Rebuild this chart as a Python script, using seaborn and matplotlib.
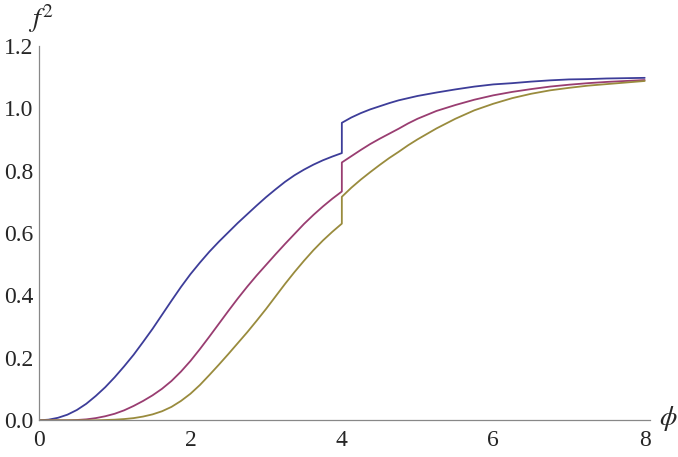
import numpy as np
import pandas as pd
import matplotlib
matplotlib.use("Agg")
import matplotlib.pyplot as plt
import seaborn as sns

# phi grid, curves (jump at phi = 4)
phi_left = [0.0, 0.125, 0.25, 0.375, 0.5, 0.625, 0.75, 0.875, 1.0, 1.125,
            1.25, 1.375, 1.5, 1.625, 1.75, 1.875, 2.0, 2.125, 2.25, 2.375,
            2.5, 2.625, 2.75, 2.875, 3.0, 3.125, 3.25, 3.375, 3.5, 3.625,
            3.75, 3.875, 4.0]
phi_right = [4.0, 4.125, 4.25, 4.375, 4.5, 4.625, 4.75, 4.875, 5.0, 5.25,
             5.5, 5.75, 6.0, 6.25, 6.5, 6.75, 7.0, 7.25, 7.5, 7.75, 8.0]

blue_left = [0.000, 0.002, 0.008, 0.018, 0.033, 0.053, 0.078, 0.106, 0.138,
             0.173, 0.210, 0.251, 0.293, 0.338, 0.383, 0.427, 0.468, 0.505,
             0.540, 0.572, 0.602, 0.632, 0.660, 0.688, 0.715, 0.740, 0.764,
             0.785, 0.803, 0.819, 0.833, 0.845, 0.856]
blue_right = [0.953, 0.970, 0.984, 0.996, 1.006, 1.016, 1.025, 1.032, 1.039,
              1.050, 1.060, 1.069, 1.076, 1.080, 1.085, 1.089, 1.092, 1.093,
              1.095, 1.096, 1.097]

magenta_left = [0.000, 0.000, 0.000, 0.000, 0.001, 0.003, 0.007, 0.013, 0.021,
                0.032, 0.046, 0.062, 0.080, 0.101, 0.126, 0.156, 0.190, 0.228,
                0.268, 0.309, 0.350, 0.390, 0.428, 0.464, 0.498, 0.532, 0.565,
                0.597, 0.629, 0.658, 0.685, 0.710, 0.733]
magenta_right = [0.826, 0.846, 0.866, 0.885, 0.902, 0.918, 0.934, 0.951, 0.966,
                 0.991, 1.010, 1.027, 1.041, 1.052, 1.061, 1.069, 1.075, 1.080,
                 1.084, 1.087, 1.090]

yellow_left = [0.000, 0.000, 0.000, 0.000, 0.000, 0.000, 0.000, 0.001, 0.002,
               0.004, 0.007, 0.012, 0.019, 0.029, 0.043, 0.062, 0.085, 0.113,
               0.145, 0.178, 0.212, 0.247, 0.282, 0.319, 0.357, 0.397, 0.437,
               0.475, 0.511, 0.545, 0.576, 0.604, 0.630]
yellow_right = [0.716, 0.745, 0.771, 0.795, 0.818, 0.840, 0.860, 0.881, 0.900,
                0.935, 0.966, 0.993, 1.014, 1.032, 1.046, 1.057, 1.065, 1.072,
                1.077, 1.082, 1.087]

colors = ["#3d3d99", "#993d71", "#998b3d"]

rows = []
for name, left, right in [("a", blue_left, blue_right),
                          ("b", magenta_left, magenta_right),
                          ("c", yellow_left, yellow_right)]:
    for x, y in zip(phi_left + phi_right, left + right):
        rows.append({"phi": x, "f2": y, "curve": name})
df = pd.DataFrame(rows)

sns.set_style("white")
plt.rcParams["font.family"] = "serif"
plt.rcParams["font.serif"] = ["Liberation Serif", "Times New Roman",
                              "STIXGeneral", "DejaVu Serif"]
plt.rcParams["mathtext.fontset"] = "stix"

fig = plt.figure(figsize=(6.78, 4.57), dpi=100)
ax = fig.add_axes([0.0575, 0.0803, 0.9012, 0.8197])

sns.lineplot(data=df, x="phi", y="f2", hue="curve", palette=colors,
             sort=False, estimator=None, linewidth=1.3, legend=False, ax=ax)

ax.set_xlim(0, 8.07)
ax.set_ylim(0, 1.2)
ax.set_xticks([0, 2, 4, 6, 8])
ax.set_xticklabels(["0", "2", "4", "6", "8"])
ax.set_yticks([0.0, 0.2, 0.4, 0.6, 0.8, 1.0, 1.2])
ax.set_yticklabels(["0.0", "0.2", "0.4", "0.6", "0.8", "1.0", "1.2"])
ax.tick_params(direction="in", length=3, width=0.8, color="#888888",
               labelsize=17)
ax.tick_params(axis="x", pad=7)
ax.tick_params(axis="y", pad=4)
ax.set_xlabel("")
ax.set_ylabel("")

for side in ["top", "right"]:
    ax.spines[side].set_visible(False)
for side in ["left", "bottom"]:
    ax.spines[side].set_color("#888888")
    ax.spines[side].set_linewidth(0.9)

fig.text(0.060, 0.960, r"$f^2$", fontsize=20, ha="center", va="center")
fig.text(0.985, 0.085, r"$\phi$", fontsize=20, ha="center", va="center")

fig.savefig("out.png", dpi=100, facecolor="white")
